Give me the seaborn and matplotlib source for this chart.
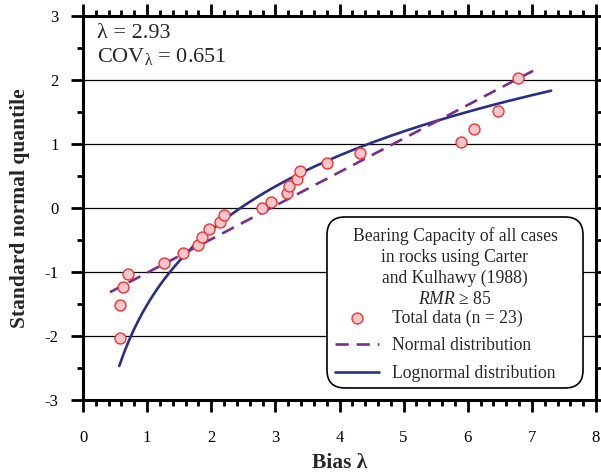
import numpy as np
import pandas as pd
import seaborn as sns
import matplotlib
matplotlib.use("Agg")
import matplotlib.pyplot as plt
from matplotlib.ticker import MultipleLocator
from matplotlib.patches import FancyBboxPatch

# ---- data ----
bias = [0.57, 0.57, 0.63, 0.70, 1.27, 1.56, 1.80, 1.86, 1.96, 2.14, 2.20, 2.79,
        2.93, 3.18, 3.22, 3.33, 3.39, 3.81, 4.32, 5.90, 6.10, 6.47, 6.79]
quantile = [-2.03, -1.52, -1.24, -1.03, -0.86, -0.71, -0.58, -0.45, -0.33, -0.22,
            -0.11, 0.00, 0.10, 0.23, 0.34, 0.45, 0.58, 0.71, 0.86, 1.03, 1.24,
            1.52, 2.03]
mean_bias = 2.93
cov_bias = 0.651
normal_x_range = [0.42, 7.02]
lognormal_x_range = [0.566, 7.30]

# fitted distribution curves (from the stated mean and COV)
sd = mean_bias * cov_bias
xn = np.linspace(normal_x_range[0], normal_x_range[1], 50)
zn = (xn - mean_bias) / sd
sig_ln = np.sqrt(np.log(1 + cov_bias ** 2))
mu_ln = np.log(mean_bias) - 0.5 * sig_ln ** 2
xl = np.linspace(lognormal_x_range[0], lognormal_x_range[1], 300)
zl = (np.log(xl) - mu_ln) / sig_ln

df_pts = pd.DataFrame({"x": bias, "z": quantile})
df_n = pd.DataFrame({"x": xn, "z": zn})
df_l = pd.DataFrame({"x": xl, "z": zl})

sns.set_theme(style="ticks")
plt.rcParams["font.family"] = ["Liberation Serif", "DejaVu Serif"]
plt.rcParams["mathtext.fontset"] = "custom"
plt.rcParams["mathtext.rm"] = "Liberation Serif"
plt.rcParams["mathtext.it"] = "Liberation Serif:italic"
plt.rcParams["mathtext.bf"] = "Liberation Serif:bold"
plt.rcParams["axes.unicode_minus"] = False

fig = plt.figure(figsize=(6.01, 4.74), dpi=100)
ax = fig.add_axes([83 / 601, 74 / 474, 513 / 601, 384 / 474])

for yv in [-2, -1, 0, 1, 2]:
    ax.axhline(yv, color="black", lw=0.9, zorder=1)

sns.lineplot(data=df_l, x="x", y="z", ax=ax, color="#2a2f86", lw=1.9,
             label="Lognormal distribution", zorder=3, sort=False)
sns.lineplot(data=df_n, x="x", y="z", ax=ax, color="#7b2f8c", lw=1.9,
             label="Normal distribution", zorder=3, sort=False)
ax.lines[-1].set_dashes([5, 3])
sns.scatterplot(data=df_pts, x="x", y="z", ax=ax, s=62, color="#f7c6c9",
                edgecolor="#ec3338", linewidth=1.0, zorder=4,
                label="Total data (n = 23)")

ax.set_xlim(0, 8)
ax.set_ylim(-3, 3)
ax.xaxis.set_major_locator(MultipleLocator(1))
ax.xaxis.set_minor_locator(MultipleLocator(0.2))
ax.yaxis.set_major_locator(MultipleLocator(1))
ax.yaxis.set_minor_locator(MultipleLocator(0.5))
ax.tick_params(which="both", direction="out", top=True, right=True,
               labeltop=False, labelright=False, width=2, color="black")
ax.tick_params(which="major", length=8.5, labelsize=12, labelcolor="black")
ax.tick_params(which="minor", length=4)
ax.tick_params(axis="x", which="major", pad=13)
ax.tick_params(axis="y", which="major", pad=9)
for sp in ax.spines.values():
    sp.set_visible(True)
    sp.set_linewidth(2.2)
    sp.set_color("black")

ax.set_xlabel("Bias λ", fontsize=15.5, fontweight="bold", labelpad=5.5)
ax.set_ylabel("Standard normal quantile", fontsize=15.5, fontweight="bold",
              labelpad=10.5)

ax.text(0.218, 2.734, "λ = 2.93", fontsize=16, va="center", ha="left")
ax.text(0.218, 2.36, "COV$_{\\mathrm{λ}}$ = 0.651", fontsize=16,
        va="center", ha="left")

# legend box (rounded frame) with centred title and entries
box = FancyBboxPatch((0.4756, 0.0313), 0.4991, 0.4453,
                     boxstyle="round,pad=0,rounding_size=0.035",
                     transform=ax.transAxes, facecolor="white",
                     edgecolor="black", linewidth=1.2, zorder=5,
                     mutation_aspect=513 / 384)
ax.add_patch(box)
ax.text(0.7251, 0.449,
        "Bearing Capacity of all cases\nin rocks using Carter\n"
        "and Kulhawy (1988)\n$\\mathit{RMR}$ ≥ 85",
        transform=ax.transAxes, ha="center", va="top", fontsize=12.7,
        multialignment="center", linespacing=1.28, zorder=6)

handles, labels = ax.get_legend_handles_labels()
order = [2, 1, 0]
leg = ax.legend([handles[i] for i in order], [labels[i] for i in order],
                loc="upper left", bbox_to_anchor=(0.4912, 0.236),
                borderaxespad=0, borderpad=0, fontsize=12.7,
                frameon=False, handlelength=2.5, handletextpad=0.75,
                labelspacing=0.6)
leg.set_zorder(7)

fig.savefig("out.png", dpi=100)
